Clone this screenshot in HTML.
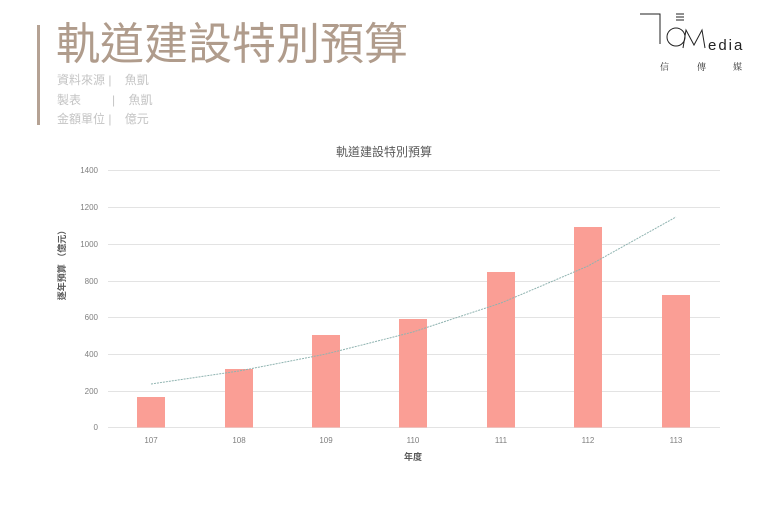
<!DOCTYPE html>
<html><head><meta charset="utf-8"><style>
html,body{margin:0;padding:0;background:#fff;width:768px;height:512px;overflow:hidden}
svg{display:block;font-family:"Liberation Sans","Noto Sans CJK TC",sans-serif}
</style></head><body>
<svg width="768" height="512" viewBox="0 0 768 512">
<rect x="37" y="25" width="3" height="100" fill="#b5a294"/>
<text x="56" y="59" font-size="44" fill="#b09c8c">軌道建設特別預算</text>
<g font-size="12" fill="#c4c4c4">
<text x="57" y="84">資料來源 |&#160;&#160;&#160;&#160;魚凱</text>
<text x="57" y="104">製表</text><text x="112" y="104">|&#160;&#160;&#160;&#160;魚凱</text>
<text x="57" y="123">金額單位 |&#160;&#160;&#160;&#160;億元</text>
</g>
<!-- logo -->
<g stroke="#222" fill="none" stroke-width="1">
<path d="M640 14 H660 V44"/>
<path d="M676 14 H684 M676 17 H684 M676 20 H684"/>
<circle cx="676" cy="37" r="9"/>
<path d="M683 48 L686 30 L694 45 L702 30 L705 48"/>
</g>
<text x="708" y="50" font-size="15" fill="#222" letter-spacing="2">edia</text>
<g font-size="9" fill="#333" font-family="'Noto Serif CJK SC',serif"><text x="660" y="70">信</text><text x="697" y="70">傳</text><text x="733" y="70">媒</text></g>
<!-- chart -->
<text x="384" y="156" font-size="12" fill="#595959" text-anchor="middle">軌道建設特別預算</text>
<g stroke="#e3e3e3" stroke-width="1">
<line x1="108" x2="720" y1="170.5" y2="170.5"/><line x1="108" x2="720" y1="207.5" y2="207.5"/>
<line x1="108" x2="720" y1="244.5" y2="244.5"/><line x1="108" x2="720" y1="281.5" y2="281.5"/>
<line x1="108" x2="720" y1="317.5" y2="317.5"/><line x1="108" x2="720" y1="354.5" y2="354.5"/>
<line x1="108" x2="720" y1="391.5" y2="391.5"/><line x1="108" x2="720" y1="427.5" y2="427.5"/>
</g>
<g font-size="8" fill="#7f7f7f" text-anchor="end">
<text x="98" y="173">1400</text><text x="98" y="210">1200</text><text x="98" y="247">1000</text>
<text x="98" y="284">800</text><text x="98" y="320">600</text><text x="98" y="357">400</text>
<text x="98" y="394">200</text><text x="98" y="430">0</text>
</g>
<text transform="translate(65,263) rotate(-90)" font-size="9" font-weight="bold" fill="#595959" text-anchor="middle">逐年預算 （億元）</text>
<g fill="#fa9e95">
<rect x="137" y="397" width="28" height="30.5"/>
<rect x="225" y="369" width="28" height="58.5"/>
<rect x="312" y="335" width="28" height="92.5"/>
<rect x="399" y="319" width="28" height="108.5"/>
<rect x="487" y="272" width="28" height="155.5"/>
<rect x="574" y="227" width="28" height="200.5"/>
<rect x="662" y="295" width="28" height="132.5"/>
</g>
<path d="M151 384 Q195 377.5 239 371 Q283 362.5 326 354 Q370 343 413 332 Q457 317.5 501 303 Q545 284.5 588 266 Q632 241.5 676 217" fill="none" stroke="#8fb3b0" stroke-width="1" stroke-dasharray="2,1"/>
<g font-size="8" fill="#7f7f7f" text-anchor="middle">
<text x="151" y="443">107</text><text x="239" y="443">108</text><text x="326" y="443">109</text>
<text x="413" y="443">110</text><text x="501" y="443">111</text><text x="588" y="443">112</text><text x="676" y="443">113</text>
</g>
<text x="413" y="460" font-size="9" font-weight="bold" fill="#595959" text-anchor="middle">年度</text>
</svg>
</body></html>
